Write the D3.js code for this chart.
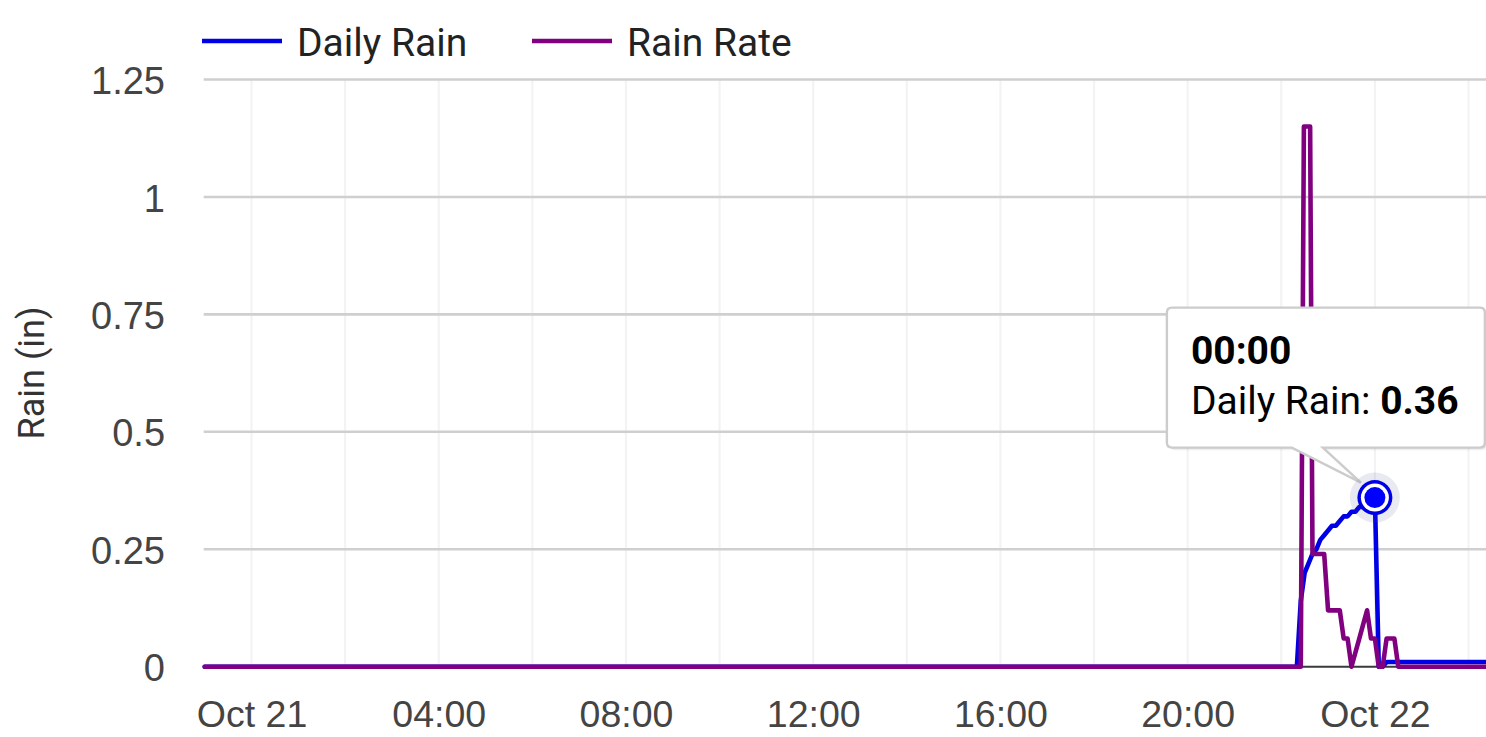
<!DOCTYPE html>
<html lang="en">
<head>
<meta charset="UTF-8">
<title>Rain</title>
<script src="https://cdn.jsdelivr.net/npm/d3@7.9.0/dist/d3.min.js"></script>
<style>
  body { margin: 0; background: #fff; }
  svg { display: block; font-family: Roboto, "Noto Sans", sans-serif; }
</style>
</head>
<body>
<div id="chart"></div>
<script>
// series data
const seriesNames  = ["Daily Rain", "Rain Rate"];
const seriesColors = ["#0000e6", "#800080"];

const dailyTimes = [
  "2023-10-20 23:00", "2023-10-21 22:20", "2023-10-21 22:25", "2023-10-21 22:30",
  "2023-10-21 22:35", "2023-10-21 22:40", "2023-10-21 22:45", "2023-10-21 22:50",
  "2023-10-21 22:55", "2023-10-21 23:00", "2023-10-21 23:05", "2023-10-21 23:10",
  "2023-10-21 23:15", "2023-10-21 23:20", "2023-10-21 23:25", "2023-10-21 23:30",
  "2023-10-21 23:35", "2023-10-21 23:40", "2023-10-21 23:45", "2023-10-21 23:50",
  "2023-10-21 23:55", "2023-10-22 00:00", "2023-10-22 00:05", "2023-10-22 00:10",
  "2023-10-22 00:15", "2023-10-22 02:25"
];
const dailyValues = [
  0, 0, 0.14, 0.20,
  0.22, 0.24, 0.25, 0.27,
  0.28, 0.29, 0.30, 0.30,
  0.31, 0.32, 0.32, 0.33,
  0.33, 0.34, 0.34, 0.35,
  0.35, 0.36, 0, 0,
  0.01, 0.01
];

const rateTimes = [
  "2023-10-20 23:00", "2023-10-21 22:25", "2023-10-21 22:29", "2023-10-21 22:33",
  "2023-10-21 22:37", "2023-10-21 22:40", "2023-10-21 22:45", "2023-10-21 22:50",
  "2023-10-21 22:55", "2023-10-21 23:00", "2023-10-21 23:05", "2023-10-21 23:10",
  "2023-10-21 23:15", "2023-10-21 23:20", "2023-10-21 23:25", "2023-10-21 23:30",
  "2023-10-21 23:35", "2023-10-21 23:40", "2023-10-21 23:45", "2023-10-21 23:50",
  "2023-10-21 23:55", "2023-10-22 00:00", "2023-10-22 00:05", "2023-10-22 00:10",
  "2023-10-22 00:15", "2023-10-22 00:20", "2023-10-22 00:25", "2023-10-22 00:30",
  "2023-10-22 02:25"
];
const rateValues = [
  0, 0, 1.15, 1.15,
  1.15, 0.24, 0.24, 0.24,
  0.24, 0.12, 0.12, 0.12,
  0.12, 0.06, 0.06, 0,
  0.03, 0.06, 0.09, 0.12,
  0.06, 0.06, 0, 0,
  0.06, 0.06, 0.06, 0,
  0
];

const yTicks = [0, 0.25, 0.5, 0.75, 1, 1.25];
const xDomain = ["2023-10-20 23:00", "2023-10-22 02:25"];
const yTitle = "Rain (in)";

// hovered point shown in the tooltip
const tipTime = "2023-10-22 00:00";
const tipValue = 0.36;
const tipLabel = "00:00";

const parse = d3.timeParse("%Y-%m-%d %H:%M");
const width = 1486, height = 737;
const plotLeft = 204.7, plotRight = 1488, plotTop = 79.5, plotBottom = 666.7;

const x = d3.scaleTime().domain(xDomain.map(parse)).range([plotLeft, plotRight]);
const y = d3.scaleLinear().domain([0, 1.25]).range([plotBottom, plotTop]);

const svg = d3.select("#chart").append("svg")
  .attr("width", width)
  .attr("height", height);

// vertical grid, every 2 hours
const xStart = x.domain()[0], xEnd = x.domain()[1];
svg.append("g")
  .selectAll("line")
  .data(d3.timeHour.every(2).range(xStart, xEnd))
  .enter().append("line")
  .attr("x1", d => x(d)).attr("x2", d => x(d))
  .attr("y1", plotTop).attr("y2", plotBottom)
  .attr("stroke", "#f3f3f3")
  .attr("stroke-width", 2.2);

// horizontal grid
svg.append("g")
  .selectAll("line")
  .data(yTicks.filter(d => d > 0))
  .enter().append("line")
  .attr("x1", plotLeft - 1).attr("x2", width)
  .attr("y1", d => y(d)).attr("y2", d => y(d))
  .attr("stroke", "#cfcfcf")
  .attr("stroke-width", 2.6);

// x axis line
svg.append("line")
  .attr("x1", plotLeft).attr("x2", width)
  .attr("y1", plotBottom).attr("y2", plotBottom)
  .attr("stroke", "#3a3a3a")
  .attr("stroke-width", 2);

// axes
const fmtTick = d => d.getHours() === 0 ? d3.timeFormat("%b %d")(d) : d3.timeFormat("%H:%M")(d);

const xAxis = svg.append("g")
  .attr("transform", `translate(0,${plotBottom})`)
  .call(d3.axisBottom(x)
    .tickValues(d3.timeHour.every(4).range(d3.timeDay.ceil(xStart), xEnd))
    .tickFormat(fmtTick)
    .tickSize(0));
xAxis.select(".domain").remove();
xAxis.selectAll("text")
  .attr("y", 60.3)
  .attr("dy", 0)
  .attr("fill", "#444")
  .style("font-size", "37.5px");

const yAxis = svg.append("g")
  .attr("transform", `translate(${plotLeft},0)`)
  .call(d3.axisLeft(y)
    .tickValues(yTicks)
    .tickFormat(d => String(d))
    .tickSize(0)
    .tickPadding(39.7));
yAxis.select(".domain").remove();
yAxis.selectAll("text")
  .attr("dy", "0.37em")
  .attr("fill", "#444")
  .style("font-size", "38px");

svg.append("text")
  .attr("transform", "translate(44,373) rotate(-90)")
  .attr("text-anchor", "middle")
  .attr("fill", "#333")
  .style("font-size", "36px")
  .text(yTitle);

// series lines
const line = d3.line()
  .x(d => x(d.t))
  .y(d => y(d.v));

const daily = dailyTimes.map((t, i) => ({ t: parse(t), v: dailyValues[i] }));
const rate  = rateTimes.map((t, i) => ({ t: parse(t), v: rateValues[i] }));

[daily, rate].forEach((data, i) => {
  svg.append("path")
    .datum(data)
    .attr("d", line)
    .attr("fill", "none")
    .attr("stroke", seriesColors[i])
    .attr("stroke-width", 4.6)
    .attr("stroke-linejoin", "round")
    .attr("stroke-linecap", "round");
});

// legend
const legendX = [202, 532];
const legend = svg.append("g")
  .selectAll("g")
  .data(seriesNames)
  .enter().append("g")
  .attr("transform", (d, i) => `translate(${legendX[i]},0)`);
legend.append("line")
  .attr("x1", 0).attr("x2", 80)
  .attr("y1", 41).attr("y2", 41)
  .attr("stroke", (d, i) => seriesColors[i])
  .attr("stroke-width", 4.5);
legend.append("text")
  .attr("x", 95).attr("y", 56)
  .attr("fill", "#222")
  .style("font-size", "39px")
  .text(d => d);

// tooltip
const px = x(parse(tipTime)), py = y(tipValue);
const tip = svg.append("g");

const boxL = px - 208, boxR = px + 110, boxT = py - 190, boxB = py - 50;
[3, 2, 1].forEach(o => {
  tip.append("rect")
    .attr("x", boxL + o).attr("y", boxT + o)
    .attr("width", boxR - boxL).attr("height", boxB - boxT)
    .attr("rx", 5)
    .attr("fill", "#000")
    .attr("opacity", 0.04);
});
const tipPath = `M${boxL + 5},${boxT} H${boxR - 5} Q${boxR},${boxT} ${boxR},${boxT + 5} V${boxB - 5} Q${boxR},${boxB} ${boxR - 5},${boxB}`
  + ` H${px - 52} L${px - 14},${py - 15} L${px - 83},${boxB} H${boxL + 5} Q${boxL},${boxB} ${boxL},${boxB - 5}`
  + ` V${boxT + 5} Q${boxL},${boxT} ${boxL + 5},${boxT} Z`;
tip.append("path")
  .attr("d", tipPath)
  .attr("fill", "#fff")
  .attr("stroke", "#cccccc")
  .attr("stroke-width", 2.4);

tip.append("text")
  .attr("x", boxL + 24).attr("y", boxT + 56)
  .attr("fill", "#000")
  .style("font-size", "39px")
  .style("font-weight", "bold")
  .text(tipLabel);
const tipLine = tip.append("text")
  .attr("x", boxL + 24).attr("y", boxT + 106)
  .attr("fill", "#000")
  .style("font-size", "39px");
tipLine.append("tspan").text(seriesNames[0] + ": ");
tipLine.append("tspan").style("font-weight", "bold").text(tipValue.toFixed(2));

// hover marker
tip.append("circle").attr("cx", px).attr("cy", py).attr("r", 25)
  .attr("fill", "#4a4a8c").attr("opacity", 0.12);
tip.append("circle").attr("cx", px).attr("cy", py).attr("r", 17.5)
  .attr("fill", seriesColors[0]);
tip.append("circle").attr("cx", px).attr("cy", py).attr("r", 14)
  .attr("fill", "#fff");
tip.append("circle").attr("cx", px).attr("cy", py).attr("r", 10.5)
  .attr("fill", "#0000ff");
</script>
</body>
</html>
